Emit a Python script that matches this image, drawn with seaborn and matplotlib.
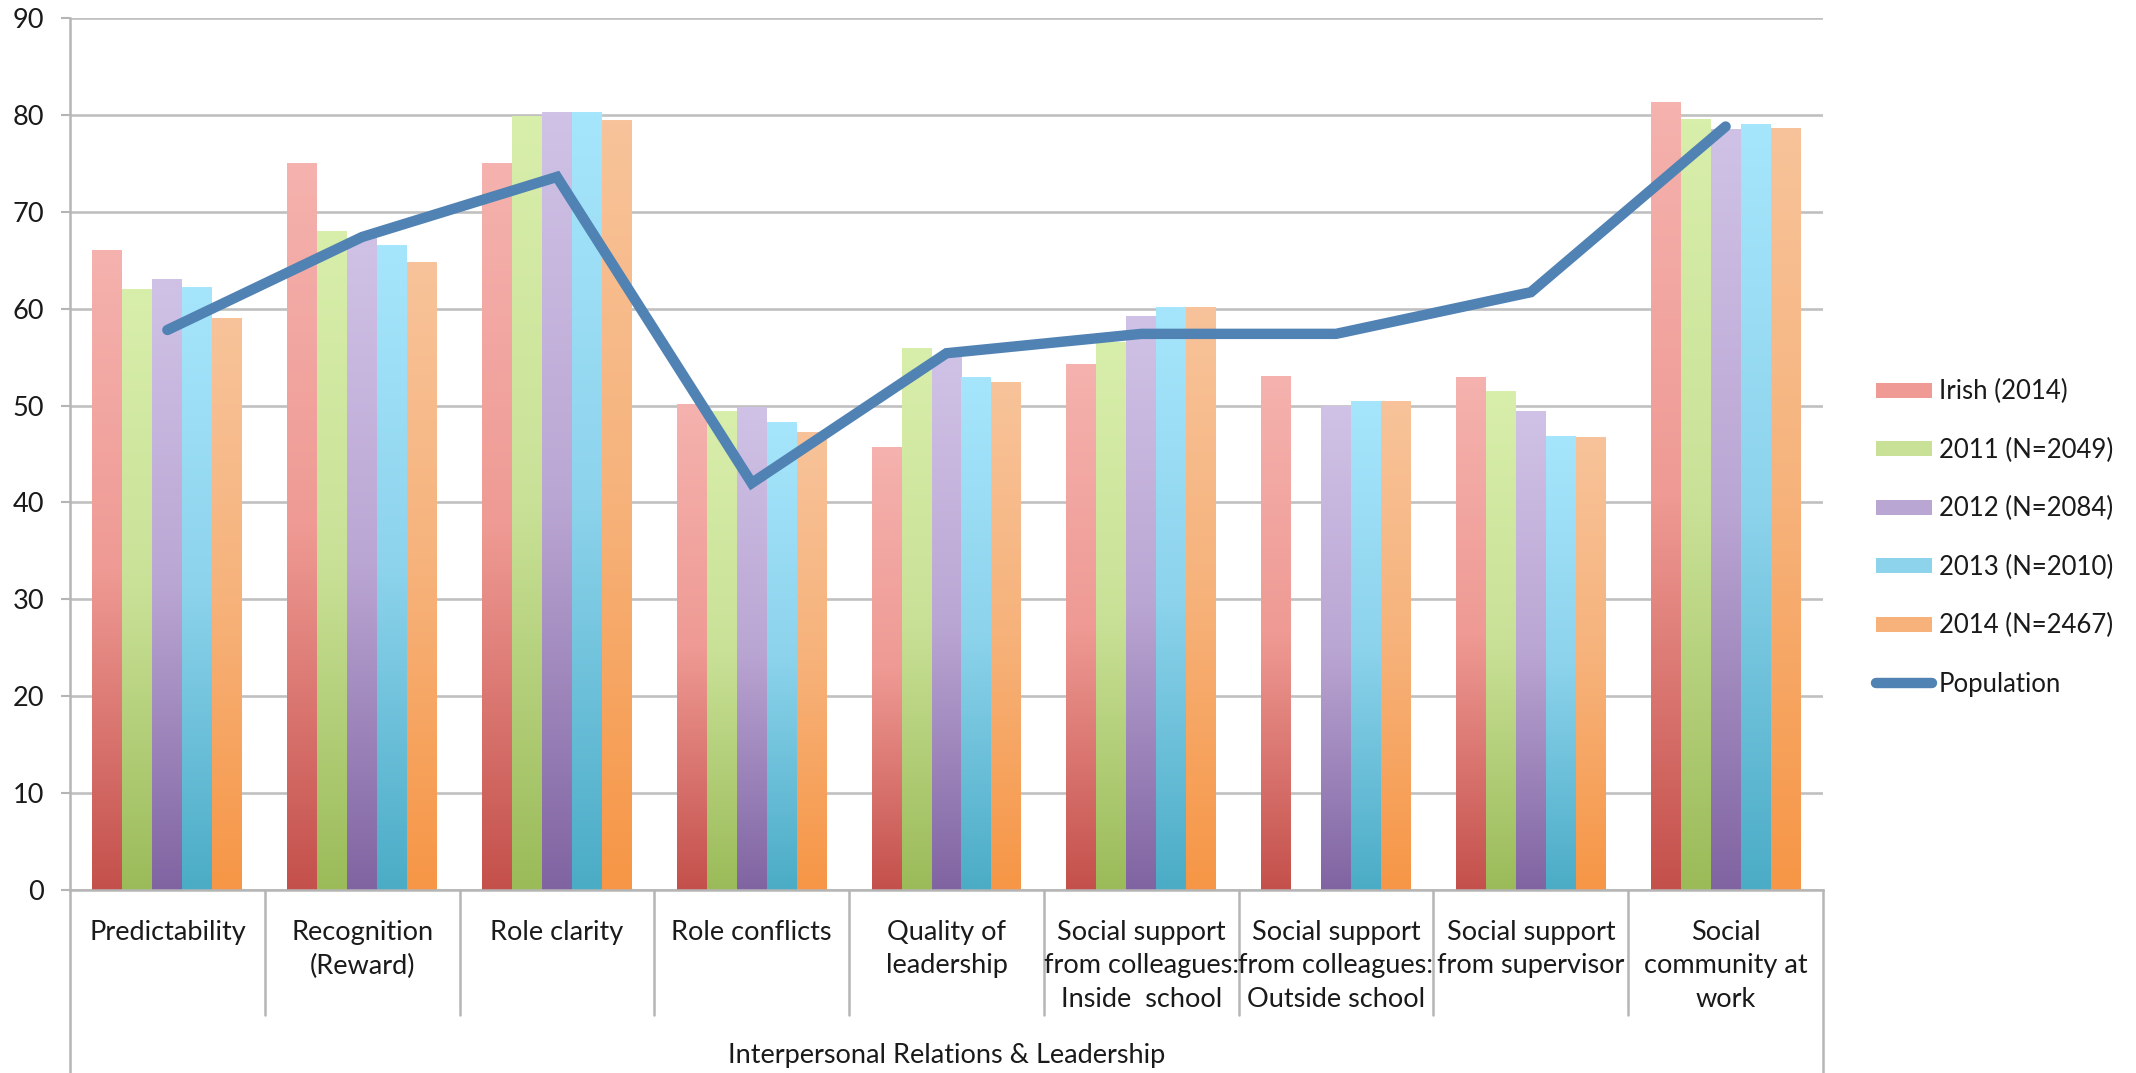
import numpy as np
import pandas as pd
import matplotlib
matplotlib.use("Agg")
import matplotlib.pyplot as plt
import seaborn as sns
from matplotlib.colors import LinearSegmentedColormap
from matplotlib.patches import Patch
from matplotlib.lines import Line2D

# data
categories = ["Predictability", "Recognition\n(Reward)", "Role clarity", "Role conflicts",
              "Quality of\nleadership", "Social support\nfrom colleagues:\nInside  school",
              "Social support\nfrom colleagues:\nOutside school", "Social support\nfrom supervisor",
              "Social\ncommunity at\nwork"]
series = ["Irish (2014)", "2011 (N=2049)", "2012 (N=2084)", "2013 (N=2010)", "2014 (N=2467)"]
irish = [66.0, 75.0, 75.0, 50.1, 45.7, 54.2, 53.0, 52.9, 81.3]
y2011 = [62.0, 68.0, 79.8, 49.4, 55.9, 56.5, np.nan, 51.5, 79.5]
y2012 = [63.0, 67.2, 80.2, 49.8, 55.0, 59.2, 49.9, 49.4, 78.5]
y2013 = [62.2, 66.5, 80.2, 48.2, 52.9, 60.1, 50.4, 46.8, 79.0]
y2014 = [59.0, 64.8, 79.4, 47.2, 52.4, 60.1, 50.4, 46.7, 78.6]
population = [57.8, 67.4, 73.6, 42.0, 55.4, 57.4, 57.4, 61.7, 78.8]
group_label = "Interpersonal Relations & Leadership"
yticks = list(range(0, 91, 10))

# colours: bottom / middle / top of each bar gradient
base = ["#c4504b", "#9bbb59", "#8064a2", "#4bacc6", "#f79646"]
mid = ["#ef9a94", "#c9e197", "#baa6d3", "#8dd3ec", "#f6b27a"]
top = ["#f5b2ae", "#d8eeab", "#d0c2e6", "#a6e6fc", "#f8c39a"]
line_color = "#5082b4"

rows = []
for s, vals in zip(series, [irish, y2011, y2012, y2013, y2014]):
    for c, v in zip(categories, vals):
        rows.append({"category": c, "series": s, "value": v})
df = pd.DataFrame(rows)

sns.set_style("white")
plt.rcParams["font.family"] = ["Lato", "DejaVu Sans"]
txt = "#1a1a1a"
fs = 19.5

fig = plt.figure(figsize=(21.36, 10.73), dpi=100)
ax = fig.add_axes([70 / 2136, 1 - 890 / 1073, (1823 - 70) / 2136, (890 - 18) / 1073])

sns.barplot(data=df, x="category", y="value", hue="series", order=categories,
            hue_order=series, palette=base, width=0.77, ax=ax, legend=False,
            saturation=1, edgecolor="none")

# gradient fill for each bar
grad = np.linspace(0, 1, 256).reshape(-1, 1)
for i, cont in enumerate(ax.containers):
    cmap = LinearSegmentedColormap.from_list("g%d" % i, [base[i], mid[i], top[i]])
    for bar in cont:
        h = bar.get_height()
        if not np.isfinite(h) or h == 0:
            continue
        x0, w = bar.get_x(), bar.get_width()
        ax.imshow(grad, cmap=cmap, extent=[x0, x0 + w, 0, h], origin="lower",
                  aspect="auto", zorder=1, interpolation="bilinear")
        bar.set_visible(False)

sns.lineplot(x=np.arange(len(categories)), y=population, color=line_color, lw=7.5,
             ax=ax, zorder=3, solid_capstyle="round", solid_joinstyle="miter")

ax.set_xlim(-0.5, len(categories) - 0.5)
ax.set_ylim(0, 90)
ax.set_yticks(yticks)
ax.set_axisbelow(True)
ax.yaxis.grid(True, color="#c0c0c0", lw=1.9)
ax.tick_params(axis="y", left=True, length=6.5, width=1.5, color="#b5b5b5",
               labelsize=fs, labelcolor=txt, pad=12)
ax.set_xticks([])
ax.set_xlabel("")
ax.set_ylabel("")
for sp in ["top", "right"]:
    ax.spines[sp].set_visible(False)
ax.spines["left"].set_color("#b5b5b5")
ax.spines["left"].set_linewidth(1.8)
ax.spines["bottom"].set_color("#b5b5b5")
ax.spines["bottom"].set_linewidth(1.8)

# category labels and separators under the axis
trans = ax.get_xaxis_transform()
ah = 890 - 18
for i, c in enumerate(categories):
    ax.text(i, -(920 - 890) / ah, c, transform=trans, ha="center", va="top",
            fontsize=fs, color=txt, linespacing=1.42, clip_on=False)
for b in np.arange(0.5, len(categories) - 0.5, 1.0):
    ax.plot([b, b], [0, -(1015 - 890) / ah], transform=trans, color="#b5b5b5",
            lw=1.8, clip_on=False)
for b in [-0.5, len(categories) - 0.5]:
    ax.plot([b, b], [0, -(1073 - 890) / ah], transform=trans, color="#b5b5b5",
            lw=1.8, clip_on=False)
ax.text((len(categories) - 1) / 2, -(1055 - 890) / ah, group_label, transform=trans,
        ha="center", va="center", fontsize=fs, color=txt, clip_on=False)

# legend
handles = [Patch(facecolor=mid[i], edgecolor="none") for i in range(len(series))]
handles.append(Line2D([0], [0], color=line_color, lw=7.5, solid_capstyle="round"))
leg = fig.legend(handles, series + ["Population"], loc="center left",
                 bbox_to_anchor=(1863 / 2136, 1 - 538 / 1073), frameon=False,
                 fontsize=18.5, labelcolor=txt, handlelength=2.2, handleheight=0.55,
                 handletextpad=0.25, labelspacing=1.3, borderpad=0)

fig.savefig("out.png", dpi=100, facecolor="white")
